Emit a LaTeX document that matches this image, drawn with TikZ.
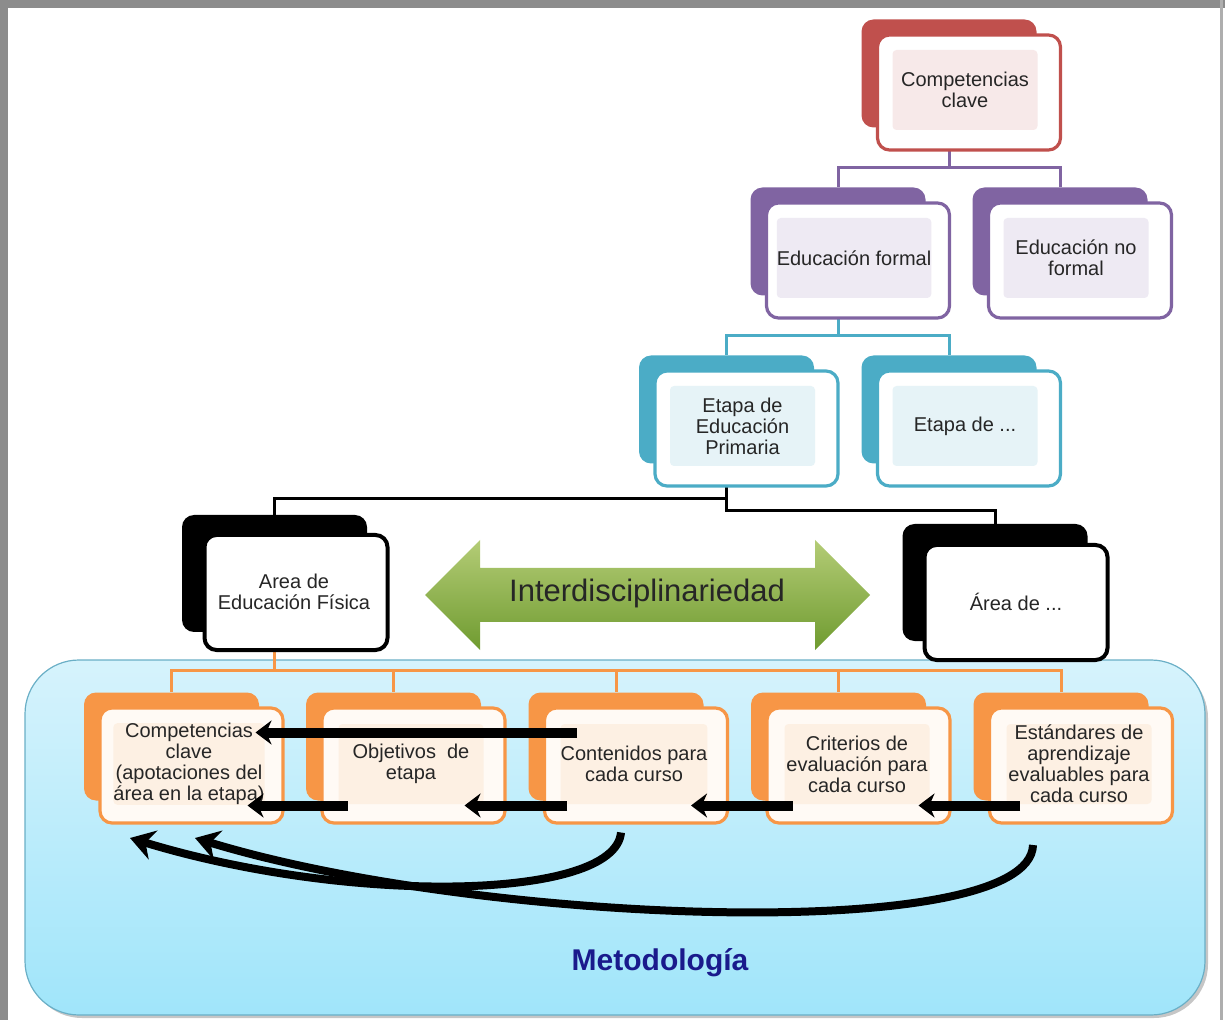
\documentclass[tikz,border=0pt]{standalone}
\usepackage{fontspec}
\setmainfont{Liberation Sans}
\usepackage{tikz}
\usetikzlibrary{calc,positioning}
\usetikzlibrary{arrows.meta}
\definecolor{rojo}{HTML}{C0504D}
\definecolor{rojoclaro}{HTML}{F7E9E9}
\definecolor{morado}{HTML}{8064A2}
\definecolor{moradoclaro}{HTML}{EEEAF3}
\definecolor{turquesa}{HTML}{4BACC6}
\definecolor{turquesaclaro}{HTML}{E6F3F7}
\definecolor{naranja}{HTML}{F79646}
\definecolor{naranjaclaro}{HTML}{FDF0E3}
\definecolor{naranjafondo}{HTML}{FFFAF5}
\definecolor{verdeA}{HTML}{B4CC76}
\definecolor{verdeB}{HTML}{8DB446}
\definecolor{verdeC}{HTML}{6F9B30}
\definecolor{celesteA}{HTML}{D6F3FC}
\definecolor{celesteB}{HTML}{A0E5FA}
\definecolor{celesteborde}{HTML}{6AAFC6}
\definecolor{gristexto}{HTML}{262626}
\definecolor{azulmet}{HTML}{1A1A8C}
\definecolor{marco}{HTML}{8C8C8C}

\begin{document}
\begin{tikzpicture}[x=0.5pt,y=-0.5pt,
		atras/.style={rectangle, rounded corners=6pt, minimum width=87.5pt, minimum height=54pt, inner sep=0pt},
		frente/.style={rectangle, rounded corners=6pt, line width=1.6pt, fill=white, minimum width=91.5pt, minimum height=57.5pt, inner sep=0pt},
		texto/.style={rectangle, rounded corners=2pt, minimum width=72.5pt, minimum height=40pt, inner sep=0pt, align=center, text=gristexto, font=\fontsize{10}{10.5}\selectfont},
		negra/.style={atras, fill=black, minimum width=92.5pt, minimum height=58.5pt},
		conlila/.style={draw=morado, line width=1.5pt},
		conturq/.style={draw=turquesa, line width=1.5pt},
		connegro/.style={draw=black, line width=1.5pt},
		connaranja/.style={draw=naranja, line width=1.5pt},
		flecha/.style={draw=black, line width=5pt, -{Stealth[length=8pt,width=12pt]}},
		curva/.style={draw=black, line width=4pt, -{Stealth[length=12pt,width=15pt]}}
		]
		\useasboundingbox (0,0) rectangle (1225,1020);
		
		% Marco y fondo
		\fill[marco] (0,0) rectangle (1225,8);
		\fill[marco] (0,0) rectangle (8,1020);
		\fill[marco!70] (1220,0) rectangle (1223,1020);
		\fill[gray!45, rounded corners=27pt] (28,664) rectangle (1208,1018);
		\shadedraw[top color=celesteA, bottom color=celesteB, draw=celesteborde, line width=0.6pt, rounded corners=27pt] (25,660) rectangle (1205,1015);
		\node[font=\fontsize{15}{15}\selectfont\bfseries, text=azulmet] (metodo) at (660,963) {Metodología};
		
		% Las cajas
		\node[atras, fill=rojo] (compb) at (949,73.5) {};
		\node[atras, fill=morado] (formalb) at (838,241.5) {};
		\node[atras, fill=morado] (noformalb) at (1060,241.5) {};
		\node[atras, fill=turquesa] (primb) at (726.5,409.5) {};
		\node[atras, fill=turquesa] (otraetb) at (949,409.5) {};
		\node[negra] (efb) at (274.5,573.5) {};
		\node[negra] (otraab) at (995,582.5) {};
		\node[atras, fill=naranja] (c1b) at (171.5,746.5) {};
		\node[atras, fill=naranja] (c2b) at (393.5,746.5) {};
		\node[atras, fill=naranja] (c3b) at (616,746.5) {};
		\node[atras, fill=naranja] (c4b) at (838.5,746.5) {};
		\node[atras, fill=naranja] (c5b) at (1061,746.5) {};
		
		% Las lineas
		\coordinate (r1) at ($(compb.south)+(0,40)$);
		\draw[conlila] (compb) -- (r1) -| (formalb.north);
		\draw[conlila] (r1) -| (noformalb.north);
		\coordinate (r2) at ($(formalb.south)+(0,40)$);
		\draw[conturq] (formalb) -- (r2) -| (primb.north);
		\draw[conturq] (r2) -| (otraetb.north);
		\coordinate (r3) at ($(primb.south)+(0,35)$);
		\coordinate (r4) at ($(primb.south)+(0,47)$);
		\draw[connegro] (primb) -- (r4) -| (otraab.north);
		\draw[connegro] (r3) -| (efb.north);
		\coordinate (r5) at ($(efb.south)+(0,38)$);
		\draw[connaranja] (efb) -- (r5) -| (c1b.north);
		\draw[connaranja] (r5) -| (c2b.north);
		\draw[connaranja] (r5) -| (c3b.north);
		\draw[connaranja] (r5) -| (c4b.north);
		\draw[connaranja] (r5) -| (c5b.north);
		
		\node[frente, draw=rojo] (comp) at (969,92.5) {};
		\node[texto, fill=rojoclaro] (compt) at (965,90) {Competencias\\clave};
		\node[frente, draw=morado] (formal) at (858,260.5) {};
		\node[texto, fill=moradoclaro] (formalt) at (854,258) {Educación formal};
		\node[frente, draw=morado] (noformal) at (1080,260.5) {};
		\node[texto, fill=moradoclaro] (noformalt) at (1076,258) {Educación no\\formal};
		\node[frente, draw=turquesa] (prim) at (746.5,428.5) {};
		\node[texto, fill=turquesaclaro] (primt) at (742.5,426) {Etapa de\\Educación\\Primaria};
		\node[frente, draw=turquesa] (otraet) at (969,428.5) {};
		\node[texto, fill=turquesaclaro] (otraett) at (965,426) {Etapa de ...};
		\node[frente, draw=black, line width=2pt] (ef) at (296,592.5) {};
		\node[texto] (eft) at (294,592) {Area de\\Educación Física};
		\node[frente, draw=black, line width=2pt] (otraa) at (1016,602.5) {};
		\node[texto] (otraat) at (1016,602) {Área de ...};
		\node[frente, draw=naranja, fill=naranjafondo] (c1) at (191.5,765.5) {};
		\node[texto, fill=naranjaclaro] (c1t) at (189,764) {Competencias\\clave\\(apotaciones del\\área en la etapa)};
		\node[frente, draw=naranja, fill=naranjafondo] (c2) at (413.5,765.5) {};
		\node[texto, fill=naranjaclaro] (c2t) at (411,764) {Objetivos~~de\\etapa};
		\node[frente, draw=naranja, fill=naranjafondo] (c3) at (636,765.5) {};
		\node[texto, fill=naranjaclaro] (c3t) at (634,764) {Contenidos para\\cada curso};
		\node[frente, draw=naranja, fill=naranjafondo] (c4) at (858.5,765.5) {};
		\node[texto, fill=naranjaclaro] (c4t) at (857,764) {Criterios de\\evaluación para\\cada curso};
		\node[frente, draw=naranja, fill=naranjafondo] (c5) at (1081,765.5) {};
		\node[texto, fill=naranjaclaro] (c5t) at (1079,764) {Estándares de\\aprendizaje\\evaluables para\\cada curso};
		
		% Interdisciplinariedad
		\shade[top color=verdeA, middle color=verdeB, bottom color=verdeC] (425,595) -- (480,540) -- (480,568) -- (815,568) -- (815,540) -- (870,595) -- (815,650) -- (815,622) -- (480,622) -- (480,650) -- cycle;
		\node[font=\fontsize{15.5}{16}\selectfont, text=gristexto] (inter) at (647,593) {Interdisciplinariedad};
		
		% Las flechas
		\draw[flecha] ($(c3)+(-59,-33)$) -- ($(c1)+(64,-33)$);
		\draw[flecha] ($(c2)+(-66,40)$) -- ($(c1)+(56,40)$);
		\draw[flecha] ($(c3)+(-69,40)$) -- ($(c2)+(51,40)$);
		\draw[flecha] ($(c4)+(-66,40)$) -- ($(c3)+(55,40)$);
		\draw[flecha] ($(c5)+(-61,40)$) -- ($(c4)+(60,40)$);
		\draw[curva] ($(c3)+(-15,67)$) .. controls +(-6,68) and +(220,67) .. ($(c1)+(-61.5,72.5)$);
		\draw[curva] ($(c5)+(-48,79.5)$) .. controls +(-3,100) and +(285,87) .. ($(c1)+(3.5,72.5)$);
	\end{tikzpicture}
\end{document}
